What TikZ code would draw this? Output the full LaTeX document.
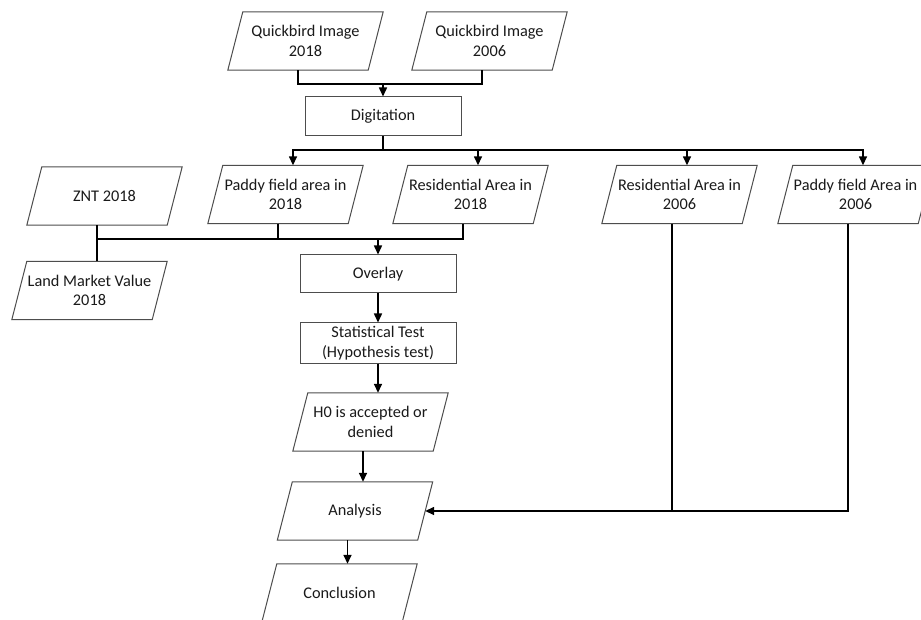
\documentclass[tikz,border=0pt]{standalone}
\usepackage{fontspec}
\setmainfont{Carlito}
\usetikzlibrary{arrows.meta}
\definecolor{edgec}{HTML}{4D4D4D}
\definecolor{txtc}{HTML}{1A1A1A}
\begin{document}
\begin{tikzpicture}[x=1pt,y=-1pt,
  every node/.style={font=\fontsize{16.3}{19.5}\selectfont, text=txtc, align=center, inner sep=0pt},
  box/.style={draw=edgec, line width=1pt, minimum width=156pt, minimum height=39pt},
  para/.style={minimum width=155pt, minimum height=58pt},
  pline/.style={draw=edgec, line width=1pt},
  conn/.style={line width=1.5pt, draw=black},
  arr/.style={conn, -{Triangle[length=9pt,width=8pt]}}]
\clip (0,0) rectangle (921,620);
\fill[white] (0,0) rectangle (921,620);

\node[para] (qa)  at (305.5,41)   {Quickbird Image\\2018};
\node[para] (qb)  at (489.5,41)   {Quickbird Image\\2006};
\node[box]  (dig) at (383,116.5)  {Digitation};
\node[para] (znt) at (104.5,196)  {ZNT 2018};
\node[para] (lmv) at (89.5,290.5) {Land Market Value\\2018};
\node[para] (p18) at (285.5,194.5) {Paddy field area in\\2018};
\node[para] (r18) at (470.5,194.5) {Residential Area in\\2018};
\node[para] (r06) at (679.5,194.5) {Residential Area in\\2006};
\node[para] (p06) at (855.5,194.5) {Paddy field Area in\\2006};
\node[box,minimum height=38pt] (ovl) at (378,274) {Overlay};
\node[box,minimum height=40pt] (st)  at (378,343) {Statistical Test\\(Hypothesis test)};
\node[para] (h0)  at (370.5,422) {H0 is accepted or\\denied};
\node[para] (ana) at (355,511)   {Analysis};
\node[para] (con) at (339.5,593) {Conclusion};

\foreach \n in {qa,qb,znt,lmv,p18,r18,r06,p06,h0,ana,con}{
  \draw[pline] ([xshift=15pt]\n.north west) -- (\n.north east) -- ([xshift=-15pt]\n.south east) -- (\n.south west) -- cycle;
  \coordinate (\n-t) at ([xshift=7.5pt]\n.north);
  \coordinate (\n-b) at ([xshift=-7.5pt]\n.south);
}
\coordinate (ana-r) at ([xshift=-7.5pt]ana.east);

% Quickbird images -> Digitation
\coordinate (j1) at (383,84);
\draw[conn] (qa-b) |- (j1) -| (qb-b);
\draw[arr] (j1) -- (dig.north);

% Digitation -> four areas
\coordinate (j2) at (383,150);
\draw[conn] (dig.south) -- (j2);
\foreach \n in {p18,r18,r06,p06} \draw[arr] (j2) -| (\n-t);

% ZNT, LMV, 2018 areas -> Overlay
\draw[conn] (znt-b) -- (lmv-t);
\coordinate (j3) at (378,239);
\draw[conn] (znt-b |- j3) -- (j3);
\draw[conn] (p18-b) |- (j3);
\draw[conn] (r18-b) |- (j3);
\draw[arr] (j3) -- (ovl.north);

% main chain
\draw[arr] (ovl.south) -- (st.north);
\draw[arr] (st.south) -- (h0-t);
\draw[arr] (h0-b) -- (h0-b |- ana-t);
\draw[arr] (ana-b) -- (ana-b |- con-t);

% 2006 areas -> Analysis
\draw[conn] (r06-b) -- (r06-b |- ana-r);
\draw[arr] (p06-b) |- (ana-r);
\end{tikzpicture}
\end{document}
